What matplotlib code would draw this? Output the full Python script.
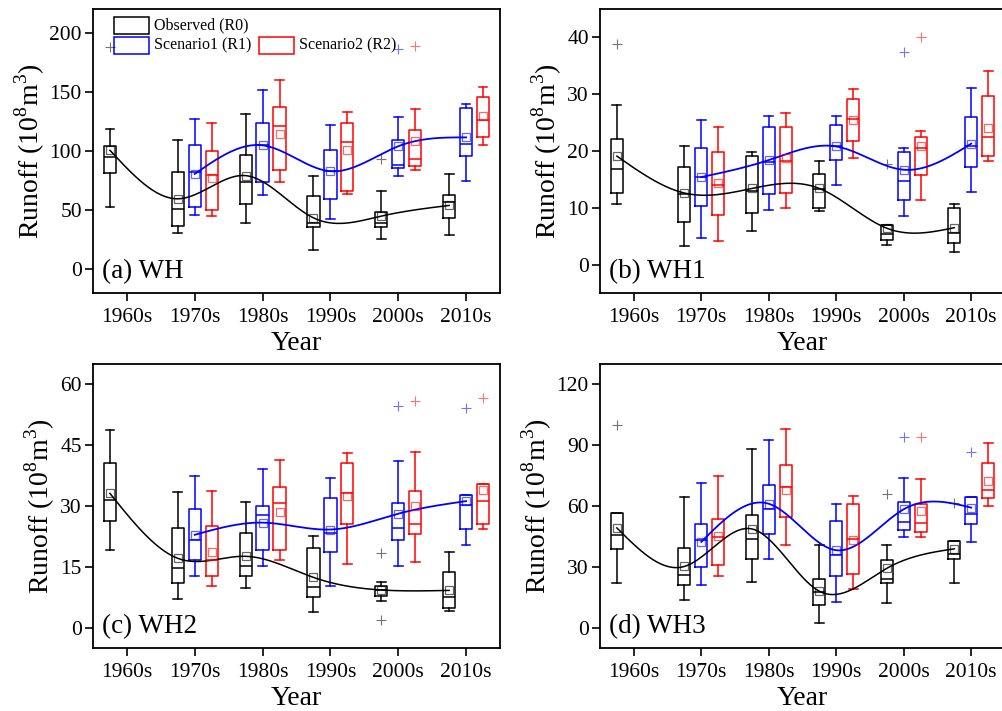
import numpy as np
import matplotlib
matplotlib.use("Agg")
import matplotlib.pyplot as plt
from matplotlib.patches import Rectangle

plt.rcParams['font.family'] = ['Liberation Serif', 'DejaVu Serif']
plt.rcParams['mathtext.fontset'] = 'custom'
plt.rcParams['mathtext.rm'] = 'Liberation Serif'

# ---------------- data ----------------
decades = ['1960s', '1970s', '1980s', '1990s', '2000s', '2010s']
# each row: [whisker low, Q1, median, Q3, whisker high, mean]
# (a) WH
WH_R0 = [[52.8, 81.5, 95, 104.5, 118.8, 100.6],
         [31, 37, 51, 82.6, 109.6, 59.6],
         [39.3, 54.8, 74, 96.3, 131, 79.2],
         [16, 36, 39.3, 61.8, 78.7, 43.5],
         [26, 35.7, 38.8, 48.3, 66.3, 45],
         [28.7, 43.5, 57, 62.4, 80.6, 54]]
WH_R0_out = [[187.6], [], [], [], [93.3], []]
WH_R1 = [[46.3, 52.8, 82.3, 104.8, 127, 80.6],
         [63.2, 74.2, 105, 124, 151.7, 104.8],
         [42.7, 59.8, 83, 101, 122, 82.9],
         [79.2, 85.7, 88, 109.6, 129, 104],
         [75, 95.5, 106, 136, 139.6, 111.5]]
WH_R1_out = [[], [], [], [186], []]
WH_R2 = [[45, 50, 80, 99.7, 123.6, 77],
         [73.9, 84.3, 120.8, 136.8, 160, 114.3],
         [64, 66.6, 107.6, 124, 133, 100.6],
         [83.7, 87.6, 93.5, 118, 135.4, 108.7],
         [105.3, 111.8, 125.8, 146, 154, 129.8]]
WH_R2_out = [[], [], [], [189], []]

# (b) WH1
WH1_R0 = [[10.7, 12.6, 16.8, 22.2, 28.1, 19.1],
          [3.2, 7.5, 12.4, 17.1, 20.9, 12.6],
          [6, 9.1, 12.9, 19.1, 19.8, 13.4],
          [9.5, 9.9, 13.3, 16, 18.3, 13.4],
          [3.4, 4.4, 5.4, 6.9, 6.9, 6.4],
          [2.2, 3.8, 5.6, 10, 10.6, 6.5]]
WH1_R0_out = [[38.9], [], [], [], [17.7], []]
WH1_R1 = [[4.6, 10.3, 15.4, 20.6, 25.4, 15.4],
          [9.6, 12.4, 18, 24.3, 26.2, 18.4],
          [14.1, 18.4, 20.8, 24.6, 26.1, 20.8],
          [8.5, 11.3, 14.8, 19.8, 20.6, 16.7],
          [12.7, 17.2, 20.8, 25.9, 31.1, 21.3]]
WH1_R1_out = [[], [], [], [37.4], []]
WH1_R2 = [[4.2, 8.8, 14, 19.9, 24.3, 14.4],
          [10, 12.6, 18.2, 24.3, 26.7, 18.8],
          [18.8, 21.7, 25.7, 29.1, 31, 25.4],
          [11.3, 15.8, 20.5, 22.4, 23.5, 20.8],
          [18.3, 19.1, 22.5, 29.7, 34, 24]]
WH1_R2_out = [[], [], [], [40.1], []]

# (c) WH2
WH2_R0 = [[19.1, 26.2, 31.5, 40.5, 48.8, 33.1],
          [7.2, 11.1, 14.8, 24.7, 33.4, 17.1],
          [9.7, 12.8, 15.2, 23.4, 30.9, 17.6],
          [3.9, 7.6, 10.1, 19.7, 22.6, 12.4],
          [6.6, 7.8, 9.3, 10.2, 11.3, 9.3],
          [4.0, 4.9, 7.5, 13.7, 18.6, 9.2]]
WH2_R0_out = [[], [], [], [], [18.3, 1.8], []]
WH2_R1 = [[12.7, 16.6, 21.5, 29.3, 37.4, 22.9],
          [15.1, 19.1, 27.9, 30.1, 39.1, 25.9],
          [10.2, 18.7, 23.4, 32, 37, 24.2],
          [15.3, 21.6, 24.5, 30.7, 41.2, 28.1],
          [20.3, 24.3, 30.2, 32.8, 32.8, 31.2]]
WH2_R1_out = [[], [], [], [54.7], [54.1]]
WH2_R2 = [[10.2, 12.7, 16.6, 25, 33.6, 18.7],
          [16.8, 19.1, 30.7, 34.8, 41.3, 28.4],
          [15.7, 25.6, 33.3, 40.7, 43, 32.4],
          [16.1, 23, 25.5, 33.6, 43.2, 29.9],
          [24.3, 25.5, 31.2, 35.5, 35.5, 33.9]]
WH2_R2_out = [[], [], [], [56], [56.6]]

# (d) WH3
WH3_R0 = [[22, 38.7, 45.9, 56.4, 56.4, 49.2],
          [13.9, 21, 25.9, 39.3, 64.4, 30.2],
          [22.3, 33.9, 43.9, 55.7, 87.9, 48.7],
          [2.5, 11.3, 17.5, 23.8, 40.8, 18],
          [12, 21.8, 23.8, 33.6, 41, 29.3],
          [22.1, 33.9, 36.2, 42.6, 42.6, 38.9]]
WH3_R0_out = [[100], [], [], [], [65.9], [61.6]]
WH3_R1 = [[21.3, 30, 43, 51.1, 71.5, 42.3],
          [33.8, 46.2, 58.5, 70.2, 92.3, 61.1],
          [12.8, 25.7, 35.7, 52.5, 61.1, 38.2],
          [44.9, 48.4, 52, 62, 73.8, 58.4],
          [42.3, 51.1, 56, 64.4, 64.4, 59.2]]
WH3_R1_out = [[], [], [], [93.9], [86.7]]
WH3_R2 = [[25.7, 31, 44.6, 53.6, 74.8, 45.4],
          [40.8, 54.8, 69.3, 80, 98, 67.7],
          [18.9, 26.7, 43.9, 61, 65.1, 43.4],
          [44.8, 47.2, 51.6, 61.1, 73.1, 57.7],
          [60, 63.9, 68, 81.1, 91, 72.1]]
WH3_R2_out = [[], [], [], [93.8], []]

panel_titles = ['(a) WH', '(b) WH1', '(c) WH2', '(d) WH3']
ylims = [(-20, 220), (-5, 45), (-5, 65), (-10, 130)]
yticks = [[0, 50, 100, 150, 200], [0, 10, 20, 30, 40], [0, 15, 30, 45, 60], [0, 30, 60, 90, 120]]
legend_labels = ['Observed (R0)', 'Scenario1 (R1)', 'Scenario2 (R2)']

panels = [
    (WH_R0, WH_R0_out, WH_R1, WH_R1_out, WH_R2, WH_R2_out),
    (WH1_R0, WH1_R0_out, WH1_R1, WH1_R1_out, WH1_R2, WH1_R2_out),
    (WH2_R0, WH2_R0_out, WH2_R1, WH2_R1_out, WH2_R2, WH2_R2_out),
    (WH3_R0, WH3_R0_out, WH3_R1, WH3_R1_out, WH3_R2, WH3_R2_out),
]

C0, C1, C2 = '#000000', '#0000ff', '#ff0000'


def nat_spline(x, y, n=300):
    x = np.asarray(x, float)
    y = np.asarray(y, float)
    k = len(x)
    h = np.diff(x)
    A = np.zeros((k, k))
    b = np.zeros(k)
    A[0, 0] = A[-1, -1] = 1
    for i in range(1, k - 1):
        A[i, i - 1] = h[i - 1]
        A[i, i] = 2 * (h[i - 1] + h[i])
        A[i, i + 1] = h[i]
        b[i] = 6 * ((y[i + 1] - y[i]) / h[i] - (y[i] - y[i - 1]) / h[i - 1])
    M = np.linalg.solve(A, b)
    xs = np.linspace(x[0], x[-1], n)
    idx = np.clip(np.searchsorted(x, xs) - 1, 0, k - 2)
    x0, x1 = x[idx], x[idx + 1]
    hh = x1 - x0
    t0, t1 = x1 - xs, xs - x0
    ys = (M[idx] * t0 ** 3 / (6 * hh) + M[idx + 1] * t1 ** 3 / (6 * hh)
          + (y[idx] / hh - M[idx] * hh / 6) * t0 + (y[idx + 1] / hh - M[idx + 1] * hh / 6) * t1)
    return xs, ys


def stats(rows, outs):
    return [dict(whislo=r[0], q1=r[1], med=r[2], q3=r[3], whishi=r[4], mean=r[5], fliers=o)
            for r, o in zip(rows, outs)]


def draw_boxes(ax, rows, outs, pos, c):
    lw = 1.1
    ax.bxp(stats(rows, outs), positions=pos, widths=0.18, capwidths=0.13,
           showmeans=True, manage_ticks=False,
           boxprops=dict(color=c, lw=lw), whiskerprops=dict(color=c, lw=lw),
           capprops=dict(color=c, lw=lw), medianprops=dict(color=c, lw=lw),
           meanprops=dict(marker='s', mfc='none', mec=c, ms=6, mew=0.9, alpha=0.6),
           flierprops=dict(marker='+', mec=c, ms=7, mew=0.8, alpha=0.55))


W, H = 1003, 711
fig = plt.figure(figsize=(W / 100, H / 100), dpi=100)
boxes_px = [(93, 9, 407, 284), (600, 9, 405, 284), (93, 364, 407, 284), (600, 364, 405, 284)]

xs_dec = np.arange(1, 7)
for k, (l, t, w, h) in enumerate(boxes_px):
    ax = fig.add_axes([l / W, (H - t - h) / H, w / W, h / H])
    R0, R0o, R1, R1o, R2, R2o = panels[k]
    p0 = xs_dec - 0.25
    p1 = xs_dec[1:].astype(float)
    p2 = xs_dec[1:] + 0.25
    draw_boxes(ax, R0, R0o, p0, C0)
    draw_boxes(ax, R1, R1o, p1, C1)
    draw_boxes(ax, R2, R2o, p2, C2)
    sx, sy = nat_spline(p0, [r[5] for r in R0])
    ax.plot(sx, sy, color=C0, lw=1.1)
    sx, sy = nat_spline(p1, [r[5] for r in R1])
    ax.plot(sx, sy, color=C1, lw=1.3)

    ax.set_xlim(0.5, 6.5)
    ax.set_ylim(*ylims[k])
    ax.set_xticks(xs_dec)
    ax.set_xticklabels(decades)
    ax.set_yticks(yticks[k])
    ax.tick_params(direction='out', length=6, width=1.2, labelsize=15.5, pad=2,
                   top=False, right=False)
    ax.tick_params(axis='x', pad=5)
    for s in ax.spines.values():
        s.set_linewidth(1.3)
    ax.set_xlabel('Year', fontsize=20, labelpad=3)
    ax.set_ylabel(r'Runoff (10$^\mathregular{8}$m$^\mathregular{3}$)', fontsize=20, labelpad=2)
    ax.text(0.022, 0.053, panel_titles[k], transform=ax.transAxes, fontsize=19.5,
            va='baseline', ha='left')

    if k == 0:
        def fx(px):
            return (px - l) / w

        def fy(py):
            return (t + h - py) / h
        for (x0, x1, y0, y1, c) in [(114, 149, 17, 34, C0), (114, 149, 37, 54, C1), (259, 294, 37, 54, C2)]:
            ax.add_patch(Rectangle((fx(x0), fy(y1)), fx(x1) - fx(x0), fy(y0) - fy(y1),
                                   transform=ax.transAxes, fill=False, ec=c, lw=1.1, clip_on=False))
        ax.text(fx(154), fy(25.5), legend_labels[0], transform=ax.transAxes, fontsize=11.5, va='center')
        ax.text(fx(154), fy(45.5), legend_labels[1], transform=ax.transAxes, fontsize=11.5, va='center')
        ax.text(fx(299), fy(45.5), legend_labels[2], transform=ax.transAxes, fontsize=11.5, va='center')

fig.savefig('out.png', dpi=100)
